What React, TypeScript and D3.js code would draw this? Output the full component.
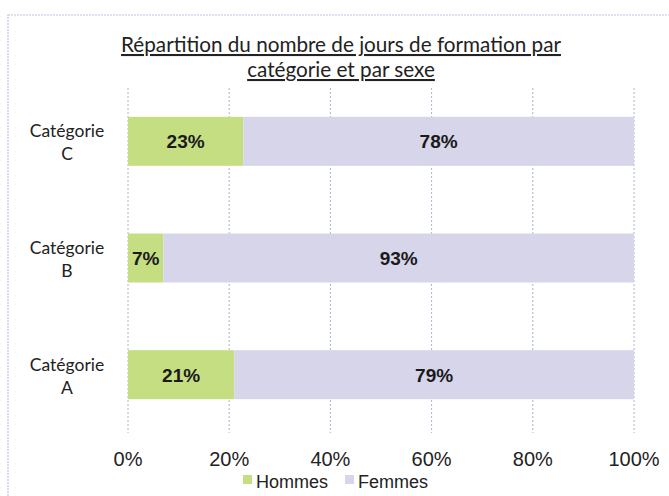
import React from "react";
import * as d3 from "d3";

const categories = ["Catégorie C", "Catégorie B", "Catégorie A"];
const categoryLines = [["Catégorie", "C"], ["Catégorie", "B"], ["Catégorie", "A"]];
const series = ["Hommes", "Femmes"];
const hommes = [23, 7, 21];
const femmes = [78, 93, 79];
const ticks = [0, 0.2, 0.4, 0.6, 0.8, 1];
const titleLines = [
  "Répartition du nombre de jours de formation par",
  "catégorie et par sexe",
];

const colors = ["#c6de82", "#d6d5ea"];
const W = 669;
const H = 496;

export default function App() {
  const rows = categories.map((c, i) => ({ cat: c, Hommes: hommes[i], Femmes: femmes[i] }));
  const stacked = d3.stack<any>().keys(series).offset(d3.stackOffsetExpand)(rows);

  const x = d3.scaleLinear().domain([0, 1]).range([128, 634]);
  const y = d3
    .scaleBand()
    .domain(categories)
    .range([83, 433])
    .paddingInner(0.58)
    .paddingOuter(0.29);

  const fmt = d3.format(".0%");

  return (
    <svg
      width={W}
      height={H}
      style={{ position: "absolute", left: 0, top: 0, background: "#fff" }}
    >
      {/* frame */}
      <rect
        x={8}
        y={15}
        width={W + 10}
        height={H}
        fill="none"
        stroke="#b9c6de"
        strokeWidth={1.2}
        strokeDasharray="2,1"
      />

      {/* title */}
      {titleLines.map((t, i) => (
        <text
          key={t}
          x={341}
          y={52 + i * 25}
          textAnchor="middle"
          fontFamily="Lato, 'Open Sans', sans-serif"
          fontSize={20.7}
          fill="#222"
          textDecoration="underline"
        >
          {t}
        </text>
      ))}

      {/* gridlines */}
      {ticks.map((t) => (
        <line
          key={t}
          x1={x(t)}
          x2={x(t)}
          y1={88}
          y2={433}
          stroke="#a3b6d8"
          strokeWidth={1}
          strokeDasharray="2,2"
        />
      ))}

      {/* bars */}
      {stacked.map((s, si) =>
        s.map((d, i) => {
          const x0 = x(d[0]);
          const x1 = x(d[1]);
          const yy = y(categories[i])!;
          const v = si === 0 ? hommes[i] : femmes[i];
          return (
            <g key={`${si}-${i}`}>
              <rect x={x0} y={yy} width={x1 - x0} height={y.bandwidth()} fill={colors[si]} />
              <text
                x={(x0 + x1) / 2}
                y={yy + y.bandwidth() / 2 + 7}
                textAnchor="middle"
                fontFamily="'Liberation Sans', Arial, sans-serif"
                fontWeight="bold"
                fontSize={19}
                fill="#1a1a1a"
              >
                {fmt(v / 100)}
              </text>
            </g>
          );
        })
      )}

      {/* category labels */}
      {categories.map((c, i) => {
        const cy = y(c)! + y.bandwidth() / 2;
        return categoryLines[i].map((l, j) => (
          <text
            key={c + j}
            x={67}
            y={cy - 4 + j * 23}
            textAnchor="middle"
            fontFamily="Lato, 'Open Sans', sans-serif"
            fontSize={17.5}
            fill="#222"
          >
            {l}
          </text>
        ));
      })}

      {/* x tick labels */}
      {ticks.map((t) => (
        <text
          key={t}
          x={x(t)}
          y={466}
          textAnchor="middle"
          fontFamily="'Liberation Sans', Arial, sans-serif"
          fontSize={20}
          fill="#222"
        >
          {fmt(t)}
        </text>
      ))}

      {/* legend */}
      {series.map((s, i) => {
        const lx = [243, 345][i];
        return (
          <g key={s}>
            <rect x={lx} y={475} width={9} height={9} fill={colors[i]} />
            <text
              x={lx + 13}
              y={488}
              fontFamily="'Liberation Sans', Arial, sans-serif"
              fontSize={18}
              fill="#222"
            >
              {s}
            </text>
          </g>
        );
      })}
    </svg>
  );
}
